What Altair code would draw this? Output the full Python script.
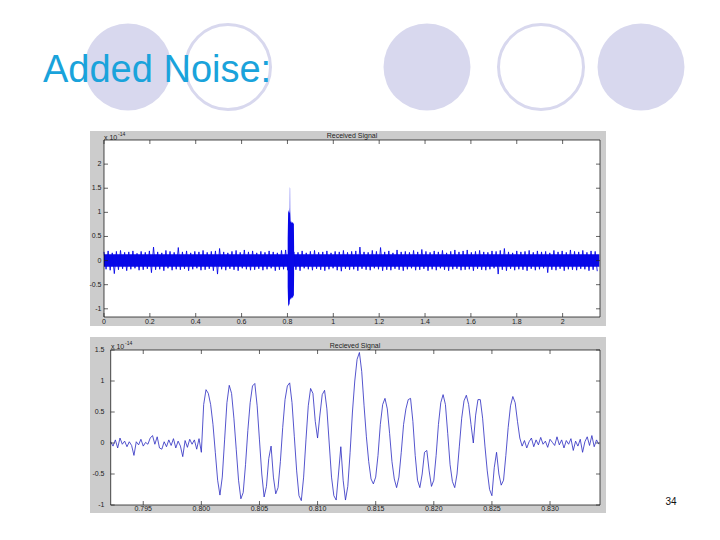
import altair as alt
import pandas as pd

# ---------------- Top panel: "Received Signal" ----------------
top_dt = 0.018
top_hi = [0.18, 0.20, 0.16, 0.19, 0.21, 0.17, 0.18, 0.20, 0.15, 0.19,
          0.17, 0.20, 0.28, 0.18, 0.16, 0.21, 0.19, 0.17, 0.27, 0.18,
          0.20, 0.16, 0.19, 0.18, 0.21, 0.17, 0.19, 0.20, 0.25, 0.18,
          0.16, 0.19, 0.21, 0.17, 0.22, 0.18, 0.20, 0.16, 0.19, 0.17,
          0.20, 0.18, 0.16, 0.21, 0.22, 0.19, 0.18, 0.17, 0.20, 0.16,
          0.19, 0.21, 0.17, 0.18, 0.20, 0.16, 0.19, 0.18, 0.21, 0.17,
          0.19, 0.20, 0.28, 0.18, 0.17, 0.21, 0.19, 0.27, 0.18, 0.20,
          0.16, 0.22, 0.18, 0.19, 0.17, 0.21, 0.18, 0.23, 0.19, 0.17,
          0.20, 0.18, 0.21, 0.16, 0.19, 0.22, 0.18, 0.20, 0.22, 0.17,
          0.19, 0.21, 0.18, 0.17, 0.20, 0.19, 0.21, 0.25, 0.18, 0.16,
          0.20, 0.18, 0.19, 0.21, 0.17, 0.20, 0.18, 0.19, 0.16, 0.21,
          0.18, 0.20, 0.17, 0.22, 0.19, 0.18, 0.21, 0.17, 0.20, 0.19]
top_lo = [-0.18, -0.20, -0.27, -0.19, -0.17, -0.21, -0.18, -0.16, -0.20, -0.19,
          -0.17, -0.25, -0.19, -0.18, -0.21, -0.16, -0.20, -0.18, -0.19, -0.17,
          -0.21, -0.18, -0.16, -0.20, -0.19, -0.17, -0.21, -0.28, -0.18, -0.20,
          -0.17, -0.19, -0.21, -0.16, -0.18, -0.20, -0.19, -0.17, -0.20, -0.18,
          -0.16, -0.21, -0.19, -0.18, -0.20, -0.17, -0.19, -0.21, -0.16, -0.18,
          -0.20, -0.17, -0.19, -0.21, -0.18, -0.16, -0.20, -0.22, -0.17, -0.19,
          -0.18, -0.21, -0.17, -0.19, -0.20, -0.16, -0.18, -0.21, -0.19, -0.20,
          -0.17, -0.19, -0.21, -0.18, -0.16, -0.20, -0.19, -0.17, -0.21, -0.18,
          -0.20, -0.16, -0.19, -0.21, -0.18, -0.17, -0.20, -0.19, -0.18, -0.21,
          -0.17, -0.19, -0.20, -0.18, -0.16, -0.28, -0.19, -0.21, -0.17, -0.20,
          -0.18, -0.19, -0.21, -0.17, -0.20, -0.18, -0.16, -0.25, -0.19, -0.20,
          -0.17, -0.21, -0.18, -0.19, -0.20, -0.17, -0.18, -0.21, -0.19, -0.22]
core_t = [0.0, 2.16]
core_hi = [0.13, 0.13]
core_lo = [-0.13, -0.13]

burst_t = [0.801, 0.803, 0.805, 0.807, 0.809, 0.8100, 0.8105, 0.8115, 0.8120, 0.814,
           0.816, 0.818, 0.820, 0.822, 0.824, 0.826, 0.828, 0.829]
burst_hi = [0.45, 1.00, 1.05, 0.98, 1.02, 1.10, 1.52, 1.50, 1.05, 0.80,
            0.82, 0.78, 0.80, 0.78, 0.80, 0.76, 0.78, 0.30]
burst_lo = [-0.55, -0.92, -0.95, -0.90, -0.92, -0.85, -0.82, -0.80, -0.82, -0.78,
            -0.80, -0.76, -0.78, -0.75, -0.78, -0.72, -0.74, -0.30]

top_xticks = [0.0, 0.2, 0.4, 0.6, 0.8, 1.0, 1.2, 1.4, 1.6, 1.8, 2.0]
top_xlabels = ["0", "0.2", "0.4", "0.6", "0.8", "1", "1.2", "1.4", "1.6", "1.8", "2"]
top_yticks = [-1.0, -0.5, 0.0, 0.5, 1.0, 1.5, 2.0]
top_ylabels = ["-1", "-0.5", "0", "0.5", "1", "1.5", "2"]

# ---------------- Bottom panel: zoom on the burst ----------------
bot_t0 = 0.7922
bot_dt = 0.0002
bot_y = [0.02, -0.05, 0.05, -0.08, 0.08, -0.02, 0.03, -0.06, 0.02, -0.04,
         -0.20, 0.02, -0.03, 0.06, -0.05, 0.01, -0.02, 0.08, 0.12, -0.02,
         0.10, -0.08, -0.10, 0.02, -0.06, 0.05, -0.04, 0.07, -0.08, 0.03,
         -0.05, -0.22, 0.04, -0.07, 0.06, -0.02, 0.05, -0.10, 0.07, -0.15,
         0.62, 0.86, 0.80, 0.62, 0.30, -0.15, -0.60, -0.84, -0.55, 0.05,
         0.65, 0.93, 0.80, 0.40, -0.10, -0.60, -0.90, -0.80, -0.35, 0.20,
         0.65, 0.92, 0.96, 0.60, 0.05, -0.50, -0.87, -0.70, -0.25, -0.05,
         -0.55, -0.82, -0.72, -0.30, 0.25, 0.70, 0.92, 0.97, 0.65, 0.10,
         -0.45, -0.85, -0.93, -0.55, 0.05, 0.60, 0.88, 0.80, 0.35, 0.08,
         0.45, 0.78, 0.85, 0.55, 0.00, -0.55, -0.85, -0.92, -0.50, -0.06,
         -0.60, -0.92, -0.70, -0.15, 0.50, 1.00, 1.35, 1.46, 1.15, 0.60,
         0.10, -0.30, -0.58, -0.66, -0.55, -0.20, 0.30, 0.62, 0.72, 0.55,
         0.15, -0.30, -0.58, -0.72, -0.55, -0.15, 0.30, 0.55, 0.70, 0.72,
         0.35, -0.20, -0.60, -0.72, -0.50, -0.15, -0.12, -0.45, -0.70, -0.60,
         -0.20, 0.30, 0.65, 0.78, 0.62, 0.15, -0.35, -0.62, -0.72, -0.50,
         -0.05, 0.40, 0.68, 0.77, 0.62, 0.30, 0.00, 0.45, 0.70, 0.70,
         0.40, -0.05, -0.45, -0.75, -0.85, -0.40, -0.15, -0.50, -0.68, -0.60,
         -0.20, 0.25, 0.60, 0.75, 0.65, 0.35, 0.08, -0.05, 0.04, -0.08,
         0.02, 0.08, -0.06, 0.05, -0.03, 0.09, -0.02, 0.03, -0.07, 0.06,
         0.01, -0.04, 0.10, -0.03, 0.05, -0.08, 0.04, -0.02, 0.07, -0.12,
         0.03, -0.05, 0.06, -0.15, 0.02, 0.10, -0.04, 0.12, -0.06, 0.05, -0.02]
bot_xticks = [0.795, 0.800, 0.805, 0.810, 0.815, 0.820, 0.825, 0.830]
bot_xlabels = ["0.795", "0.800", "0.805", "0.810", "0.815", "0.820", "0.825", "0.830"]
bot_yticks = [-1.0, -0.5, 0.0, 0.5, 1.0, 1.5]
bot_ylabels = ["-1", "-0.5", "0", "0.5", "1", "1.5"]

# ---------------- tables ----------------
zig_rows = []
for i, (h, l) in enumerate(zip(top_hi, top_lo)):
    zig_rows.append({"t": i * top_dt, "v": h, "k": 2 * i})
    zig_rows.append({"t": i * top_dt + top_dt / 2, "v": l, "k": 2 * i + 1})
zig_df = pd.DataFrame(zig_rows)
core_df = pd.DataFrame({"t": core_t, "hi": core_hi, "lo": core_lo})
burst_df = pd.DataFrame({"t": burst_t, "hi": burst_hi, "lo": burst_lo})
bot_df = pd.DataFrame({"t": [bot_t0 + i * bot_dt for i in range(len(bot_y))], "v": bot_y})
txt_df = pd.DataFrame({"t": top_xticks, "lab": top_xlabels})
tyt_df = pd.DataFrame({"v": top_yticks, "lab": top_ylabels})
bxt_df = pd.DataFrame({"t": bot_xticks, "lab": bot_xlabels})
byt_df = pd.DataFrame({"v": bot_yticks, "lab": bot_ylabels})

# ---------------- scales (pixel ranges place each panel) ----------------
TX = alt.Scale(domain=[0, 2.163], range=[96, 592], nice=False, zero=False)
TY = alt.Scale(domain=[-1.17, 2.5], range=[309, 132], nice=False, zero=False)
BX = alt.Scale(domain=[0.7922, 0.8343], range=[102.7, 592], nice=False, zero=False)
BY = alt.Scale(domain=[-1.0, 1.5], range=[497, 342], nice=False, zero=False)

one = alt.Data(values=[{"a": 1}])
FONT = "Liberation Sans"
LAV = "#d8d8ee"
BLUE = "#0808e8"
TICKC = "#222222"

layers = []

# decorative circles
for cx, filled in [(120, True), (220, False), (419, True), (533, False), (633, True)]:
    if filled:
        m = alt.Chart(one).mark_point(shape="circle", filled=True, size=7569, color=LAV, opacity=1)
    else:
        m = alt.Chart(one).mark_point(shape="circle", filled=False, size=7225, color=LAV,
                                      strokeWidth=3, opacity=1)
    layers.append(m.encode(x=alt.value(cx), y=alt.value(59)))

# slide title
layers.append(alt.Chart(one).mark_text(align="left", baseline="alphabetic", fontSize=38,
                                       font=FONT, color="#1aa3db").encode(
    x=alt.value(35), y=alt.value(74), text=alt.value("Added Noise:")))
# page number
layers.append(alt.Chart(one).mark_text(align="center", baseline="alphabetic", fontSize=10,
                                       font=FONT, color="#111111").encode(
    x=alt.value(663), y=alt.value(497), text=alt.value("34")))

# grey figure frames and white axes boxes
for (x1, x2, y1, y2) in [(82, 598, 123, 318), (82, 598, 329, 505)]:
    layers.append(alt.Chart(one).mark_rect(color="#cccccc").encode(
        x=alt.value(x1), x2=alt.value(x2), y=alt.value(y1), y2=alt.value(y2)))
for (x1, x2, y1, y2) in [(96, 592, 132, 309), (102.7, 592, 342, 497)]:
    layers.append(alt.Chart(one).mark_rect(color="#ffffff").encode(
        x=alt.value(x1), x2=alt.value(x2), y=alt.value(y1), y2=alt.value(y2)))

# top data
layers.append(alt.Chart(core_df).mark_area(color=BLUE, opacity=1).encode(
    x=alt.X("t:Q", scale=TX, axis=None),
    y=alt.Y("hi:Q", scale=TY, axis=None), y2="lo:Q"))
layers.append(alt.Chart(zig_df).mark_line(color=BLUE, strokeWidth=0.9).encode(
    x=alt.X("t:Q", scale=TX, axis=None),
    y=alt.Y("v:Q", scale=TY, axis=None), order="k:Q"))
layers.append(alt.Chart(burst_df).mark_area(color=BLUE, opacity=1).encode(
    x=alt.X("t:Q", scale=TX, axis=None),
    y=alt.Y("hi:Q", scale=TY, axis=None), y2="lo:Q"))

# bottom data
layers.append(alt.Chart(bot_df).mark_line(color="#2a2ac0", strokeWidth=0.8).encode(
    x=alt.X("t:Q", scale=BX, axis=None),
    y=alt.Y("v:Q", scale=BY, axis=None)))

# axes boxes
for (x1, x2, y1, y2) in [(96, 592, 132, 309), (102.7, 592, 342, 497)]:
    layers.append(alt.Chart(one).mark_rect(filled=False, stroke="#000000", strokeWidth=0.7).encode(
        x=alt.value(x1), x2=alt.value(x2), y=alt.value(y1), y2=alt.value(y2)))


def panel_ticks(xdf, ydf, SX, SY, left, right, top, bottom, xlab_y, ylab_x):
    out = []
    for (ya, yb) in [(bottom, bottom - 4), (top, top + 4)]:
        out.append(alt.Chart(xdf).mark_rule(color=TICKC, strokeWidth=0.7).encode(
            x=alt.X("t:Q", scale=SX, axis=None), y=alt.value(ya), y2=alt.value(yb)))
    for (xa, xb) in [(left, left + 4), (right, right - 4)]:
        out.append(alt.Chart(ydf).mark_rule(color=TICKC, strokeWidth=0.7).encode(
            y=alt.Y("v:Q", scale=SY, axis=None), x=alt.value(xa), x2=alt.value(xb)))
    out.append(alt.Chart(xdf).mark_text(align="center", baseline="middle", fontSize=7,
                                        font=FONT, color=TICKC).encode(
        x=alt.X("t:Q", scale=SX, axis=None), y=alt.value(xlab_y), text="lab:N"))
    out.append(alt.Chart(ydf).mark_text(align="right", baseline="middle", fontSize=7,
                                        font=FONT, color=TICKC).encode(
        y=alt.Y("v:Q", scale=SY, axis=None), x=alt.value(ylab_x), text="lab:N"))
    return out


layers += panel_ticks(txt_df, tyt_df, TX, TY, 96, 592, 132, 309, 314, 93.5)
layers += panel_ticks(bxt_df, byt_df, BX, BY, 102.7, 592, 342, 497, 501, 96.5)

# panel titles and exponent labels
for (x, y, s, size, al) in [(344, 128, "Received Signal", 7, "center"),
                            (347, 338, "Recieved Signal", 7, "center"),
                            (96, 130, "x 10", 7, "left"),
                            (110, 126, "-14", 5, "left"),
                            (103, 339, "x 10", 7, "left"),
                            (117, 335, "-14", 5, "left")]:
    layers.append(alt.Chart(one).mark_text(align=al, baseline="middle", fontSize=size,
                                           font=FONT, color=TICKC).encode(
        x=alt.value(x), y=alt.value(y), text=alt.value(s)))

chart = alt.layer(*layers).resolve_scale(x="independent", y="independent").properties(
    width=704, height=524, padding=0,
    autosize=alt.AutoSizeParams(type="none"),
    background="#ffffff",
).configure_view(strokeWidth=0)

chart.save("out.html", embed_options={"renderer": "svg", "actions": False})
